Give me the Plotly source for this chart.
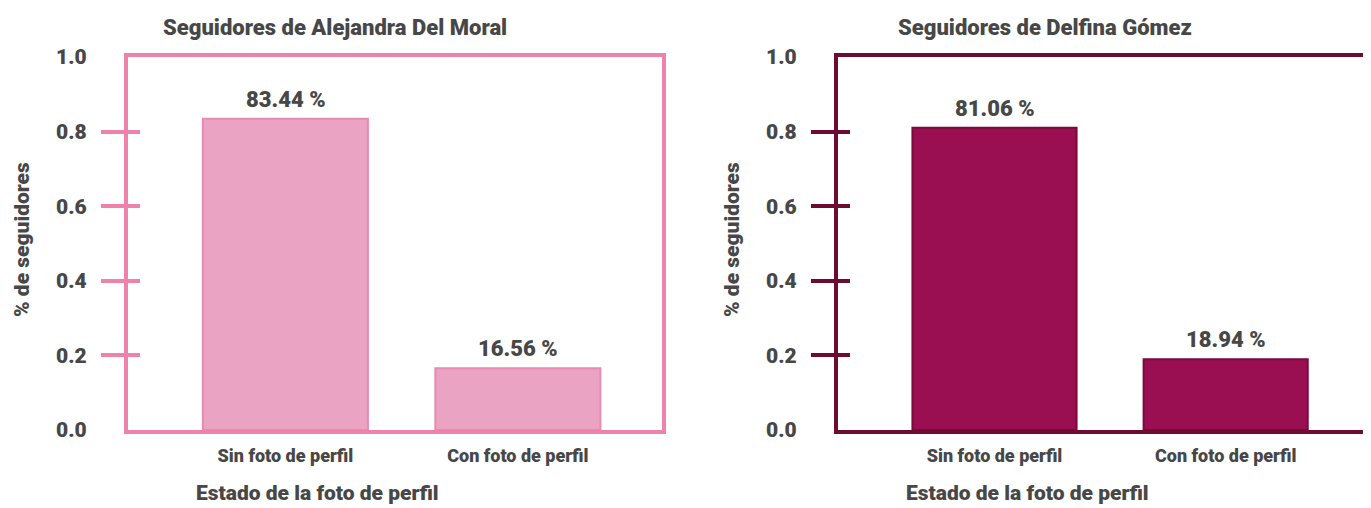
import plotly.graph_objects as go

categories = ["Sin foto de perfil", "Con foto de perfil"]
values_moral = [0.8344, 0.1656]
values_gomez = [0.8106, 0.1894]
titles = ["Seguidores de Alejandra Del Moral", "Seguidores de Delfina Gómez"]
ytick_vals = [0.0, 0.2, 0.4, 0.6, 0.8, 1.0]
ytick_text = ["0.0", "0.2", "0.4", "0.6", "0.8", "1.0"]
mark_vals = [0.2, 0.4, 0.6, 0.8]

# page body has an 8px margin; the figure is sized/positioned to compensate
OFF = 8
W, H = 1371 - OFF, 508 - OFF
FONT = "Roboto"
TXT = "#474747"


def px(X):
    return (X - OFF) / W


def py(Y):
    return 1 - (Y - OFF) / H


panels = [
    dict(vals=values_moral, fill="#eaa3c2", edge="#e88ab1", frame="#ef82ab",
         x0=128, x1=662),
    dict(vals=values_gomez, fill="#9a0f52", edge="#7a0a3c", frame="#6e0b30",
         x0=838, x1=1369),
]

fig = go.Figure()
ydom = [py(430), py(57)]

for i, p in enumerate(panels):
    n = i + 1
    xa = "x" if n == 1 else f"x{n}"
    ya_main = "y" if i == 0 else f"y{3*i+1}"
    ya_out = f"y{3*i+2}"
    ya_in = f"y{3*i+3}"
    fig.add_trace(go.Bar(
        x=categories, y=p["vals"], xaxis=xa, yaxis=ya_main,
        width=0.71, marker=dict(color=p["fill"], line=dict(color=p["edge"], width=2)),
        showlegend=False, hoverinfo="skip"))
    for ya in (ya_out, ya_in):
        fig.add_trace(go.Scatter(x=[categories[0]], y=[0], xaxis=xa, yaxis=ya,
                                 mode="markers", marker=dict(opacity=0),
                                 showlegend=False, hoverinfo="skip"))
    for c, v in zip(categories, p["vals"]):
        fig.add_annotation(x=c, y=v, xref=xa, yref=ya_main, text=f"{v*100:.2f} %",
                           showarrow=False, yanchor="bottom", yshift=5,
                           font=dict(family=FONT, size=22, color=TXT, weight=900))
    dom = [px(p["x0"]), min(px(p["x1"]), 1.0)]
    xkey = "xaxis" if n == 1 else f"xaxis{n}"
    fig.layout[xkey] = dict(
        domain=dom, anchor=ya_main, range=[-0.677, 1.62], automargin=False,
        showline=True, mirror=True, linewidth=4, linecolor=p["frame"],
        ticks="outside", ticklen=6, tickcolor="rgba(0,0,0,0)",
        tickfont=dict(family=FONT, size=18, color=TXT, weight=900),
        showgrid=False, zeroline=False, fixedrange=True)
    k_main = "yaxis" if i == 0 else f"yaxis{3*i+1}"
    fig.layout[k_main] = dict(
        domain=ydom, anchor=xa, range=[0, 1], automargin=False,
        tickvals=ytick_vals, ticktext=ytick_text,
        ticks="outside", ticklen=33, tickcolor="rgba(0,0,0,0)",
        tickfont=dict(family=FONT, size=21, color=TXT, weight=900),
        showline=True, mirror=True, linewidth=4, linecolor=p["frame"],
        showgrid=False, zeroline=False, fixedrange=True)
    fig.layout[f"yaxis{3*i+2}"] = dict(
        domain=ydom, anchor=xa, overlaying=ya_main, range=[0, 1], automargin=False,
        tickvals=mark_vals, showticklabels=False,
        ticks="outside", ticklen=26, tickwidth=4, tickcolor=p["frame"],
        showline=False, showgrid=False, zeroline=False, fixedrange=True)
    fig.layout[f"yaxis{3*i+3}"] = dict(
        domain=ydom, anchor=xa, overlaying=ya_main, range=[0, 1], automargin=False,
        tickvals=mark_vals, showticklabels=False,
        ticks="inside", ticklen=12, tickwidth=4, tickcolor=p["frame"],
        showline=False, showgrid=False, zeroline=False, fixedrange=True)

    off = p["x0"]
    fig.add_annotation(x=px(off + 207), y=py(27), xref="paper", yref="paper",
                       xanchor="center", yanchor="middle",
                       text=titles[i], showarrow=False,
                       font=dict(family=FONT, size=22, color=TXT, weight=900))
    fig.add_annotation(x=px(off + 189), y=py(493), xref="paper", yref="paper",
                       xanchor="center", yanchor="middle",
                       text="Estado de la foto de perfil", showarrow=False,
                       font=dict(family=FONT, size=21, color=TXT, weight=900))
    fig.add_annotation(x=px(off - 106), y=py(240), xref="paper", yref="paper",
                       xanchor="center", yanchor="middle",
                       text="% de seguidores", showarrow=False, textangle=-90,
                       font=dict(family=FONT, size=21, color=TXT, weight=900))

fig.update_layout(
    width=W, height=H, margin=dict(l=0, r=0, t=0, b=0, autoexpand=False),
    paper_bgcolor="white", plot_bgcolor="rgba(0,0,0,0)", bargap=0.29)

fig.write_html("out.html")
